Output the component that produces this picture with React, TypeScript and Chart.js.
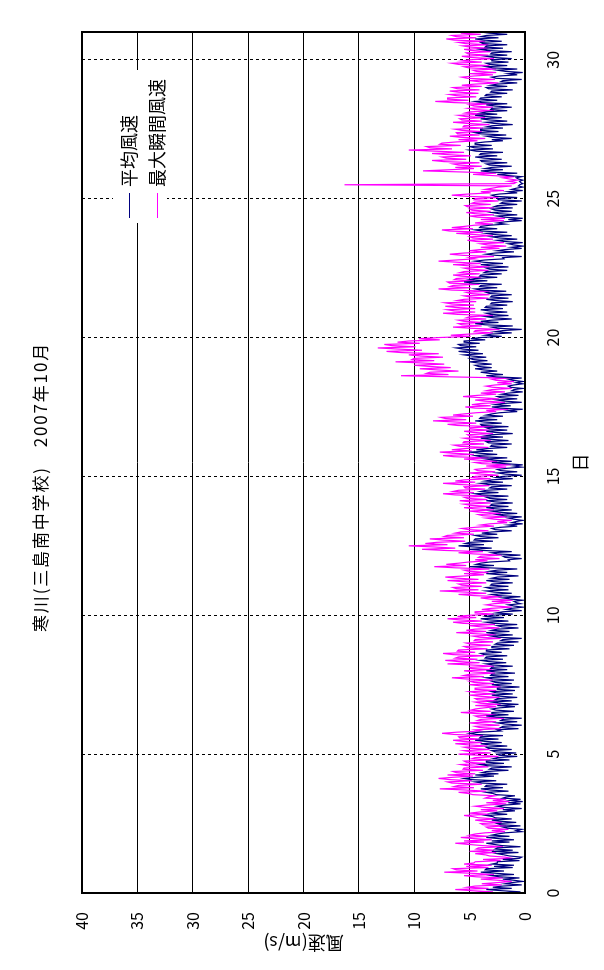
import React, { useEffect, useRef } from "react";
import { Chart, registerables } from "chart.js";

Chart.register(...registerables);

const TITLE = "寒川(三島南中学校)　2007年10月";
const SERIES_NAMES = ["平均風速", "最大瞬間風速"];
const X_TITLE = "日";
const Y_TITLE = "風速(m/s)";
const SAMPLES_PER_DAY = 24; // hourly
const dayTicks = [0, 5, 10, 15, 20, 25, 30];
const speedTicks = [0, 5, 10, 15, 20, 25, 30, 35, 40];

// 平均風速 (m/s), hourly, one row per day
const avgWind = [
  2.5, 0.4, 2.1, 3.5, 1.2, 2.9, 2.0, 0.3, 1.8, 1.2, 0.2, 1.0, 2.0, 0.5, 2.3, 3.0, 1.0, 2.6, 4.0, 1.9, 3.6, 3.5, 1.1, 2.8,
  1.0, 3.0, 2.5, 2.5, 0.5, 2.0, 0.5, 0.3, 1.4, 1.9, 2.5, 0.6, 3.0, 1.1, 2.7, 2.5, 0.4, 2.1, 2.8, 3.5, 1.4, 3.0, 1.0, 2.4,
  3.5, 1.4, 3.0, 2.5, 1.8, 0.3, 0.8, 0.3, 1.6, 2.0, 0.4, 2.2, 2.5, 0.8, 2.2, 3.0, 1.2, 2.7, 2.9, 3.5, 1.6, 3.0, 2.3, 0.9,
  2.0, 0.3, 1.9, 2.5, 1.8, 0.4, 1.5, 0.2, 1.3, 0.4, 2.0, 1.7, 0.9, 2.6, 2.9, 3.5, 1.5, 3.1, 4.0, 2.0, 3.6, 3.5, 1.6, 3.9,
  4.5, 2.6, 4.9, 5.5, 4.4, 2.8, 4.5, 2.4, 3.9, 3.5, 1.5, 3.2, 3.0, 1.2, 3.4, 4.0, 1.9, 3.5, 3.5, 1.4, 2.9, 2.5, 0.7, 2.3,
  2.5, 0.8, 2.7, 3.0, 1.2, 3.3, 3.5, 1.6, 3.2, 4.0, 2.1, 3.6, 4.5, 2.4, 4.1, 4.0, 2.0, 4.4, 5.0, 4.1, 2.2, 2.5, 0.6, 2.2,
  2.0, 0.3, 1.8, 2.5, 0.7, 2.2, 2.0, 0.3, 2.6, 3.5, 1.5, 3.0, 3.0, 1.0, 2.6, 3.0, 2.3, 0.9, 2.5, 0.6, 2.3, 3.0, 1.2, 2.7,
  2.5, 0.7, 2.2, 3.0, 1.1, 2.6, 3.0, 0.9, 2.5, 2.5, 0.5, 2.2, 3.0, 1.2, 2.7, 3.0, 1.0, 2.9, 3.5, 1.5, 3.1, 3.0, 0.9, 2.6,
  3.5, 1.6, 3.1, 3.0, 1.1, 2.9, 3.5, 1.7, 3.3, 4.0, 2.0, 3.6, 3.5, 1.6, 3.7, 4.0, 2.1, 3.5, 3.5, 1.4, 3.0, 3.0, 1.0, 2.7,
  2.5, 0.6, 2.2, 2.0, 0.3, 2.4, 3.0, 1.1, 2.7, 3.5, 1.4, 3.0, 2.5, 0.6, 2.1, 2.5, 0.7, 2.8, 3.5, 1.5, 3.2, 4.0, 1.9, 3.5,
  3.0, 1.1, 2.6, 2.0, 0.3, 1.7, 1.2, 0.2, 1.0, 1.5, 0.4, 0.8, 1.0, 0.2, 1.3, 2.0, 0.4, 2.4, 3.0, 1.2, 2.8, 3.5, 1.5, 3.1,
  3.5, 1.5, 3.1, 3.0, 1.1, 2.8, 3.5, 1.4, 3.0, 2.5, 0.6, 2.2, 3.5, 1.6, 3.2, 2.5, 0.7, 3.3, 5.0, 2.8, 4.4, 4.0, 3.2, 1.4,
  1.5, 0.3, 1.8, 2.0, 0.4, 2.5, 3.0, 1.2, 3.8, 5.0, 3.0, 4.6, 6.0, 3.7, 5.4, 5.0, 2.9, 4.6, 4.5, 2.4, 4.0, 4.5, 2.5, 3.9,
  3.0, 1.2, 2.7, 3.0, 2.2, 0.7, 1.5, 0.2, 1.2, 0.8, 0.2, 1.0, 1.5, 0.3, 1.9, 2.5, 0.7, 2.3, 3.0, 1.2, 2.7, 3.5, 1.5, 3.1,
  3.0, 1.1, 2.7, 3.5, 1.6, 3.2, 3.5, 1.5, 3.9, 4.5, 2.4, 4.0, 3.5, 1.6, 3.2, 3.0, 1.2, 3.3, 4.0, 2.0, 3.6, 3.0, 1.1, 2.6,
  2.0, 0.3, 1.8, 2.5, 0.7, 2.2, 2.5, 1.6, 0.3, 1.0, 0.2, 1.8, 3.0, 1.2, 2.8, 3.5, 1.6, 4.0, 4.5, 2.5, 4.1, 5.0, 2.9, 4.4,
  3.5, 1.6, 3.1, 3.0, 1.2, 3.3, 3.5, 1.5, 3.1, 4.0, 2.0, 3.6, 3.0, 1.1, 2.7, 3.5, 1.6, 3.2, 3.5, 1.5, 3.9, 4.0, 2.1, 3.7,
  4.5, 2.5, 4.1, 4.0, 2.0, 3.5, 3.0, 2.3, 0.7, 1.5, 0.2, 2.2, 3.0, 1.3, 2.7, 2.0, 0.3, 1.8, 2.5, 0.7, 2.2, 2.5, 0.6, 2.1,
  1.5, 0.2, 1.2, 1.0, 0.2, 1.3, 1.5, 1.0, 0.2, 0.8, 0.2, 1.1, 1.5, 0.3, 2.6, 3.5, 2.0, 3.2, 4.0, 2.5, 3.7, 4.5, 3.0, 4.2,
  4.5, 3.0, 4.2, 5.0, 3.4, 4.7, 5.0, 3.5, 4.8, 5.5, 3.8, 5.1, 6.0, 4.2, 5.6, 6.2, 4.4, 5.8, 6.0, 4.1, 5.5, 5.5, 3.6, 4.9,
  4.0, 2.1, 3.6, 3.0, 1.2, 2.7, 2.0, 0.3, 2.5, 3.0, 1.1, 3.6, 4.5, 2.4, 4.0, 3.0, 1.2, 2.8, 3.5, 1.5, 3.1, 3.5, 1.6, 3.2,
  4.0, 2.0, 3.6, 3.5, 1.6, 3.1, 3.0, 1.1, 2.7, 3.5, 1.5, 3.1, 3.0, 1.2, 3.2, 3.5, 1.7, 4.0, 4.5, 2.5, 4.1, 4.0, 2.1, 4.7,
  5.5, 3.4, 5.0, 4.5, 2.5, 4.1, 4.0, 2.1, 3.7, 3.5, 1.6, 3.2, 3.5, 1.5, 3.1, 4.0, 2.0, 3.7, 4.5, 3.6, 1.9, 2.0, 0.3, 2.6,
  3.5, 2.7, 1.0, 2.5, 1.8, 0.3, 1.2, 0.2, 1.0, 1.5, 0.2, 1.9, 2.5, 0.7, 2.3, 3.0, 1.2, 2.8, 3.5, 1.6, 3.9, 4.5, 2.5, 4.1,
  4.0, 3.2, 1.8, 2.5, 1.8, 0.3, 1.5, 0.2, 1.9, 2.5, 0.7, 2.3, 3.0, 1.2, 2.7, 3.0, 1.1, 2.8, 2.5, 0.7, 2.2, 2.0, 0.3, 2.4,
  2.5, 0.7, 2.7, 3.0, 2.3, 0.7, 1.5, 0.2, 1.2, 0.8, 0.2, 0.6, 0.5, 0.2, 0.4, 0.5, 0.2, 0.6, 0.8, 0.3, 1.6, 2.5, 0.7, 3.1,
  4.0, 2.0, 3.6, 3.0, 1.2, 3.2, 3.5, 1.6, 3.9, 4.0, 2.1, 3.7, 4.5, 2.5, 4.1, 4.0, 2.0, 4.4, 5.0, 2.9, 4.6, 5.0, 3.0, 4.5,
  4.5, 3.6, 2.0, 3.0, 1.2, 2.9, 3.5, 1.7, 4.0, 4.5, 2.4, 4.0, 4.0, 2.0, 3.5, 3.0, 1.1, 2.8, 3.5, 1.6, 3.2, 4.0, 2.1, 3.6,
  4.5, 2.5, 4.0, 3.5, 1.6, 3.1, 3.0, 1.2, 2.7, 3.5, 1.6, 3.9, 4.5, 2.5, 4.1, 4.0, 2.1, 3.6, 3.5, 1.6, 3.1, 3.0, 1.1, 3.3,
  3.5, 1.6, 3.1, 2.5, 0.7, 2.2, 2.0, 0.3, 2.6, 3.0, 2.3, 0.7, 1.5, 0.2, 1.8, 2.5, 0.7, 2.9, 3.5, 1.6, 3.2, 3.5, 1.5, 3.0,
  3.0, 1.2, 2.8, 3.5, 1.6, 3.1, 3.0, 1.2, 3.4, 4.0, 2.0, 3.6, 3.5, 1.6, 3.8, 4.0, 2.1, 3.7, 4.5, 2.4, 4.0, 3.5, 1.6, 3.2,
  4.0,
];

// 最大瞬間風速 (m/s), hourly, one row per day
const maxGust = [
  5.5, 2.9, 4.8, 6.3, 3.3, 5.2, 4.5, 2.1, 3.9, 2.5, 1.2, 2.4, 4.0, 2.0, 4.4, 5.5, 2.8, 4.7, 7.3, 4.3, 6.2, 6.5, 3.3, 5.3,
  3.0, 5.5, 4.6, 4.5, 2.2, 3.8, 1.2, 1.8, 3.2, 3.6, 4.5, 2.6, 5.0, 2.8, 4.4, 4.2, 2.0, 3.9, 5.1, 6.3, 3.7, 5.5, 3.0, 4.6,
  5.8, 3.3, 5.0, 4.5, 3.6, 1.8, 3.0, 1.5, 3.3, 3.5, 1.7, 3.8, 4.0, 2.1, 3.7, 4.5, 2.5, 4.2, 4.7, 5.5, 3.2, 5.0, 4.1, 2.5,
  4.0, 1.9, 3.6, 4.5, 3.5, 1.7, 3.5, 1.4, 2.9, 1.7, 3.6, 3.3, 2.7, 4.7, 5.1, 6.0, 3.5, 5.4, 7.7, 4.6, 6.4, 6.0, 3.9, 6.6,
  7.0, 4.8, 6.8, 7.8, 6.5, 4.7, 7.0, 4.5, 6.2, 6.5, 3.8, 5.6, 5.5, 3.3, 5.2, 5.8, 3.6, 5.3, 5.5, 3.1, 4.8, 4.5, 2.4, 4.2,
  6.0, 3.1, 4.9, 5.5, 3.2, 5.0, 5.5, 3.4, 5.1, 6.3, 3.9, 5.6, 6.5, 4.0, 5.9, 6.0, 3.8, 6.4, 7.5, 6.1, 4.0, 4.5, 2.2, 4.1,
  4.5, 2.3, 4.0, 5.0, 2.6, 4.3, 4.0, 1.9, 4.2, 4.5, 2.6, 4.3, 5.8, 3.1, 4.9, 4.5, 3.7, 2.6, 4.5, 2.2, 4.0, 4.5, 2.5, 4.3,
  4.5, 2.3, 4.1, 5.0, 2.7, 4.4, 5.0, 2.6, 4.5, 4.5, 2.2, 4.0, 5.0, 2.8, 4.6, 5.0, 2.9, 5.4, 6.6, 3.7, 5.5, 5.0, 2.7, 4.6,
  5.5, 3.0, 4.9, 5.0, 2.8, 4.8, 7.0, 4.1, 6.0, 7.2, 4.3, 6.3, 6.0, 3.7, 6.5, 7.4, 4.5, 6.1, 6.0, 3.4, 5.2, 5.5, 3.1, 4.9,
  5.3, 2.9, 4.6, 4.5, 2.2, 4.1, 4.7, 2.6, 4.4, 6.2, 3.5, 5.3, 4.5, 2.3, 4.0, 5.0, 2.7, 5.6, 6.5, 3.9, 5.9, 7.0, 4.4, 6.1,
  5.0, 2.8, 4.5, 4.5, 2.3, 3.9, 3.0, 1.2, 2.7, 3.5, 2.8, 1.3, 3.0, 1.1, 3.2, 4.0, 2.1, 4.6, 6.0, 3.5, 5.3, 7.7, 4.2, 6.2,
  6.5, 3.9, 5.7, 6.0, 3.5, 5.5, 7.0, 4.2, 6.1, 7.2, 5.4, 3.7, 5.5, 3.3, 5.1, 5.5, 3.2, 6.3, 8.2, 5.3, 7.1, 6.0, 5.1, 3.4,
  4.5, 2.3, 4.2, 4.0, 2.1, 4.6, 6.0, 3.8, 7.2, 9.3, 6.3, 8.2, 10.5, 7.0, 9.0, 8.0, 5.4, 7.4, 8.6, 5.5, 7.3, 7.0, 4.6, 6.3,
  5.8, 3.3, 5.1, 5.7, 4.5, 2.8, 4.0, 3.2, 1.6, 2.5, 1.2, 2.8, 3.5, 1.6, 3.8, 4.2, 2.2, 4.0, 5.0, 2.8, 4.6, 5.5, 3.1, 4.9,
  5.5, 3.1, 4.9, 5.9, 3.4, 5.2, 5.5, 3.3, 6.3, 7.4, 4.6, 6.5, 6.0, 3.6, 5.4, 5.5, 3.2, 6.0, 7.4, 4.5, 6.3, 5.5, 3.1, 4.8,
  4.5, 2.4, 4.0, 5.0, 2.7, 4.3, 4.5, 3.5, 1.7, 3.5, 1.3, 3.9, 4.5, 2.5, 4.2, 5.5, 3.3, 6.4, 7.4, 4.6, 6.5, 7.7, 4.8, 6.6,
  5.5, 3.3, 5.9, 6.4, 3.7, 5.6, 5.5, 3.1, 4.9, 5.5, 3.3, 5.0, 5.2, 2.9, 4.7, 5.5, 3.2, 5.0, 5.0, 2.9, 6.1, 7.0, 4.4, 6.3,
  8.3, 5.3, 7.2, 7.6, 4.7, 6.5, 5.5, 4.4, 2.6, 3.5, 1.5, 4.5, 5.4, 3.1, 4.8, 4.0, 1.8, 3.6, 4.5, 2.3, 4.0, 5.6, 4.3, 2.6,
  4.0, 1.8, 3.5, 3.0, 1.2, 2.9, 3.5, 2.7, 1.2, 2.5, 1.0, 2.6, 3.0, 1.4, 6.8, 11.2, 6.9, 8.9, 8.6, 6.0, 7.9, 9.5, 6.7, 8.6,
  10.0, 7.3, 9.3, 11.7, 8.2, 10.2, 10.0, 7.4, 9.4, 10.5, 7.8, 11.2, 12.5, 9.3, 11.4, 13.3, 9.9, 12.0, 12.7, 9.5, 11.5, 10.5, 7.7, 9.6,
  7.7, 4.9, 6.7, 5.0, 2.9, 4.6, 4.5, 2.3, 4.9, 6.5, 3.9, 5.7, 6.0, 3.8, 5.5, 6.0, 3.5, 5.3, 5.0, 2.9, 6.1, 7.4, 4.5, 6.4,
  7.0, 4.5, 6.3, 7.2, 4.6, 6.6, 7.2, 4.4, 6.1, 5.5, 3.3, 5.0, 5.5, 3.2, 4.9, 5.3, 3.2, 6.6, 7.8, 4.9, 6.8, 6.5, 4.1, 6.8,
  7.0, 4.6, 6.4, 6.2, 4.0, 5.7, 6.5, 4.1, 5.9, 5.5, 3.3, 5.0, 5.5, 3.2, 5.1, 6.5, 4.0, 6.0, 7.8, 6.2, 4.5, 5.0, 2.8, 5.6,
  6.8, 5.5, 3.5, 5.0, 4.1, 2.3, 4.0, 1.7, 3.4, 4.0, 1.9, 4.4, 5.2, 2.9, 4.7, 5.0, 2.9, 4.6, 6.2, 3.8, 6.8, 7.5, 4.7, 6.6,
  5.5, 4.6, 2.9, 4.5, 3.6, 1.9, 4.0, 1.8, 4.3, 5.0, 2.8, 4.5, 5.3, 3.1, 4.8, 5.0, 2.8, 5.2, 5.4, 3.1, 4.8, 4.5, 2.4, 4.6,
  4.5, 2.4, 5.2, 6.6, 5.1, 3.1, 4.0, 1.9, 3.6, 3.0, 2.4, 1.2, 16.3, 1.0, 0.8, 1.5, 0.7, 1.4, 2.0, 1.0, 3.1, 4.7, 2.6, 5.5,
  9.2, 6.8, 4.6, 6.3, 3.9, 6.0, 6.5, 4.1, 7.3, 8.4, 5.3, 7.1, 7.5, 4.9, 6.9, 8.4, 5.5, 8.0, 10.5, 6.6, 8.6, 8.9, 5.8, 7.7,
  7.5, 6.2, 4.3, 6.0, 3.6, 5.8, 6.8, 4.1, 6.1, 6.2, 3.9, 5.7, 6.3, 3.8, 5.6, 5.5, 3.2, 5.2, 6.5, 3.9, 5.7, 5.9, 3.6, 5.4,
  6.0, 3.6, 5.4, 5.0, 2.8, 4.5, 5.1, 2.9, 4.6, 5.0, 2.9, 6.4, 8.1, 5.1, 7.0, 7.0, 4.4, 6.2, 6.8, 4.2, 6.0, 6.8, 4.1, 6.1,
  6.5, 3.9, 5.7, 4.5, 2.4, 4.1, 5.0, 2.7, 5.2, 5.7, 4.6, 2.9, 5.0, 2.6, 4.4, 4.7, 2.6, 5.1, 5.5, 3.2, 6.0, 6.6, 3.9, 5.7,
  5.0, 2.8, 4.9, 5.7, 3.3, 5.1, 5.3, 3.1, 4.8, 5.5, 3.3, 5.0, 5.6, 3.3, 5.4, 6.0, 3.6, 6.4, 7.1, 4.4, 6.2, 6.6, 4.0, 5.8,
  5.0,
];

const W = 970;
const H = 604;
const FONT = '"Noto Sans CJK JP", "Noto Sans", sans-serif';

const toPoints = (arr: number[]) => arr.map((v, i) => ({ x: i / SAMPLES_PER_DAY, y: v }));

const decorPlugin = {
  id: "decor",
  afterDraw(chart: any) {
    const ctx: CanvasRenderingContext2D = chart.ctx;
    const a = chart.chartArea;
    ctx.save();
    // frame
    ctx.strokeStyle = "#000";
    ctx.lineWidth = 2;
    ctx.strokeRect(a.left, a.top, a.right - a.left, a.bottom - a.top);

    // legend (opaque key box)
    ctx.fillStyle = "#fff";
    ctx.fillRect(747, 113, 153, 54);
    const colors = ["#000080", "#ff00ff"];
    const rows = [129, 157];
    ctx.lineWidth = 1;
    ctx.font = `18px ${FONT}`;
    ctx.textBaseline = "middle";
    ctx.textAlign = "left";
    SERIES_NAMES.forEach((name, i) => {
      ctx.strokeStyle = colors[i];
      ctx.beginPath();
      ctx.moveTo(752, rows[i] + 0.5);
      ctx.lineTo(777, rows[i] + 0.5);
      ctx.stroke();
      ctx.fillStyle = "#000";
      ctx.fillText(name, 783, rows[i]);
    });

    // title
    ctx.fillStyle = "#000";
    ctx.font = `17px ${FONT}`;
    (ctx as any).letterSpacing = "0px";
    const w = ctx.measureText(TITLE).width;
    const n = [...TITLE].length;
    const sp = (290 - w) / n;
    (ctx as any).letterSpacing = `${sp}px`;
    ctx.textAlign = "left";
    ctx.fillText(TITLE, 338, 41);
    (ctx as any).letterSpacing = "0px";

    // x title
    ctx.font = `18px ${FONT}`;
    ctx.textAlign = "center";
    ctx.fillText(X_TITLE, (a.left + a.right) / 2, 580);

    // y title
    ctx.translate(27, (a.top + a.bottom) / 2);
    ctx.rotate(-Math.PI / 2);
    ctx.fillText(Y_TITLE, 0, 0);
    ctx.restore();
  },
};

export default function App() {
  const ref = useRef<HTMLCanvasElement>(null);
  useEffect(() => {
    const canvas = ref.current!;
    const chart = new Chart(canvas, {
      type: "line",
      data: {
        datasets: [
          {
            label: SERIES_NAMES[0],
            data: toPoints(avgWind),
            borderColor: "#000080",
            backgroundColor: "#000080",
            borderWidth: 1.2,
            pointRadius: 0,
            tension: 0,
          },
          {
            label: SERIES_NAMES[1],
            data: toPoints(maxGust),
            borderColor: "#ff00ff",
            backgroundColor: "#ff00ff",
            borderWidth: 1.2,
            pointRadius: 0,
            tension: 0,
          },
        ],
      },
      options: {
        responsive: false,
        animation: false,
        devicePixelRatio: 1,
        layout: { padding: { left: 0, right: 32, top: 82, bottom: 0 } },
        plugins: {
          legend: { display: false },
          title: { display: false },
          tooltip: { enabled: false },
        },
        scales: {
          x: {
            type: "linear",
            min: 0,
            max: 31,
            afterBuildTicks: (s: any) => {
              s.ticks = dayTicks.map((value) => ({ value }));
            },
            afterFit: (s: any) => {
              s.height = 79;
            },
            grid: { color: "#000", lineWidth: 1, drawTicks: false },
            border: { display: false, dash: [3, 3] },
            ticks: {
              padding: 18,
              color: "#000",
              font: { family: FONT, size: 16 },
              maxRotation: 0,
              autoSkip: false,
            },
          },
          y: {
            type: "linear",
            min: 0,
            max: 40,
            afterBuildTicks: (s: any) => {
              s.ticks = speedTicks.map((value) => ({ value }));
            },
            afterFit: (s: any) => {
              s.width = 77;
            },
            grid: { color: "#000", lineWidth: 1, drawTicks: false },
            border: { display: false },
            ticks: {
              padding: 19,
              color: "#000",
              font: { family: FONT, size: 16 },
              autoSkip: false,
            },
          },
        },
      } as any,
      plugins: [decorPlugin],
    });
    return () => chart.destroy();
  }, []);

  return (
    <div
      style={{
        position: "absolute",
        left: 0,
        top: 0,
        width: 604,
        height: 970,
        overflow: "hidden",
        background: "#fff",
      }}
    >
      <canvas
        ref={ref}
        width={W}
        height={H}
        style={{
          position: "absolute",
          left: 0,
          top: 0,
          width: `${W}px`,
          height: `${H}px`,
          transformOrigin: "0 0",
          transform: "translate(0px, 970px) rotate(-90deg)",
        }}
      />
    </div>
  );
}
